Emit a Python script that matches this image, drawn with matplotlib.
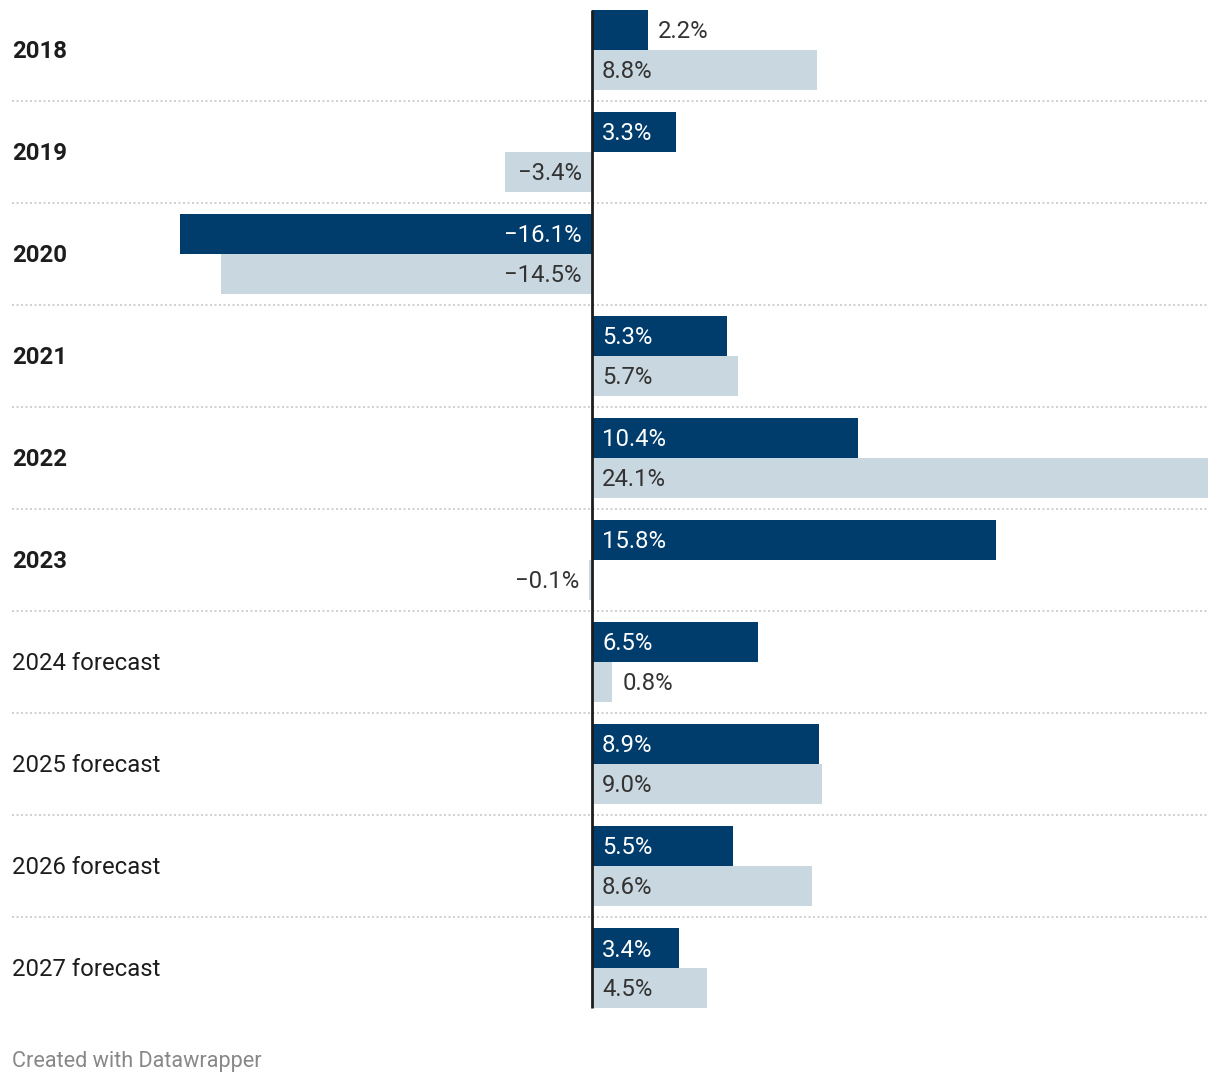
import matplotlib
matplotlib.use("Agg")
import matplotlib.pyplot as plt
from matplotlib.transforms import offset_copy

plt.rcParams['font.family'] = ['Roboto', 'DejaVu Sans']

# ---------------- data ----------------
years = ['2018', '2019', '2020', '2021', '2022', '2023',
         '2024 forecast', '2025 forecast', '2026 forecast', '2027 forecast']
bold_rows = [True, True, True, True, True, True, False, False, False, False]
series_a = [2.2, 3.3, -16.1, 5.3, 10.4, 15.8, 6.5, 8.9, 5.5, 3.4]
series_b = [8.8, -3.4, -14.5, 5.7, 24.1, -0.1, 0.8, 9.0, 8.6, 4.5]

dark = '#003c6c'
light = '#c9d7e0'
txt = '#333333'

W, H = 1220, 1084
fig = plt.figure(figsize=(W / 100, H / 100), dpi=100)

# axes placed in pixel terms: x 12..1208, y 5..1013
px_per = (1208 - 592) / 24.1
ax = fig.add_axes([12 / W, (H - 1013) / H, (1208 - 12) / W, (1013 - 5) / H])
ax.set_xlim(-(592 - 12) / px_per, 24.1)
pitch = 102.0
ax.set_ylim((1013 - 50) / pitch, (5 - 50) / pitch)
ax.axis('off')

bh = 40 / pitch
off = 20 / pitch
fs = 17.2
down = -2  # points-ish shift to match vertical text placement

for i in range(len(years)):
    ax.barh(i - off, series_a[i], height=bh, color=dark, linewidth=0)
    ax.barh(i + off, series_b[i], height=bh, color=light, linewidth=0)
    tr = offset_copy(ax.get_yaxis_transform(), fig=fig, y=down * 0.72, units='points')
    ax.text(0, i, years[i], transform=tr,
            fontsize=fs, fontweight='bold' if bold_rows[i] else 'normal',
            color='#1d1d1d', va='center', ha='left')

# separators
for i in range(len(years) - 1):
    ax.axhline(i + 0.5, color='#c8c8c8', lw=1.2, ls=(0, (1.2, 1.5)), zorder=0)

# zero line
ax.plot([0, 0], [-off - bh / 2, len(years) - 1 + off + bh / 2], color='#1d1d1d', lw=2, zorder=5,
        solid_capstyle='butt')

fig.canvas.draw()
renderer = fig.canvas.get_renderer()
pad = 10 / px_per
data_tr = offset_copy(ax.transData, fig=fig, y=down * 0.72, units='points')


def label(v, y, inside_color):
    s = ('%.1f%%' % abs(v))
    s = ('\u2212' + s) if v < 0 else s
    t = ax.text(0, y, s, fontsize=fs, va='center', transform=data_tr)
    w = t.get_window_extent(renderer).width / px_per
    inside = abs(v) > w + 2 * pad
    if v >= 0:
        if inside:
            t.set_x(pad); t.set_ha('left'); t.set_color(inside_color)
        else:
            t.set_x(v + pad); t.set_ha('left'); t.set_color(txt)
    else:
        if inside:
            t.set_x(-pad); t.set_ha('right'); t.set_color(inside_color)
        else:
            t.set_x(v - pad); t.set_ha('right'); t.set_color(txt)
    t.set_zorder(6)


for i in range(len(years)):
    label(series_a[i], i - off, 'white')
    label(series_b[i], i + off, txt)

fig.text(12 / W, 1 - 1061 / H, 'Created with Datawrapper', fontsize=15.6, color='#888888',
         va='center', ha='left')

fig.savefig('out.png', dpi=100)
